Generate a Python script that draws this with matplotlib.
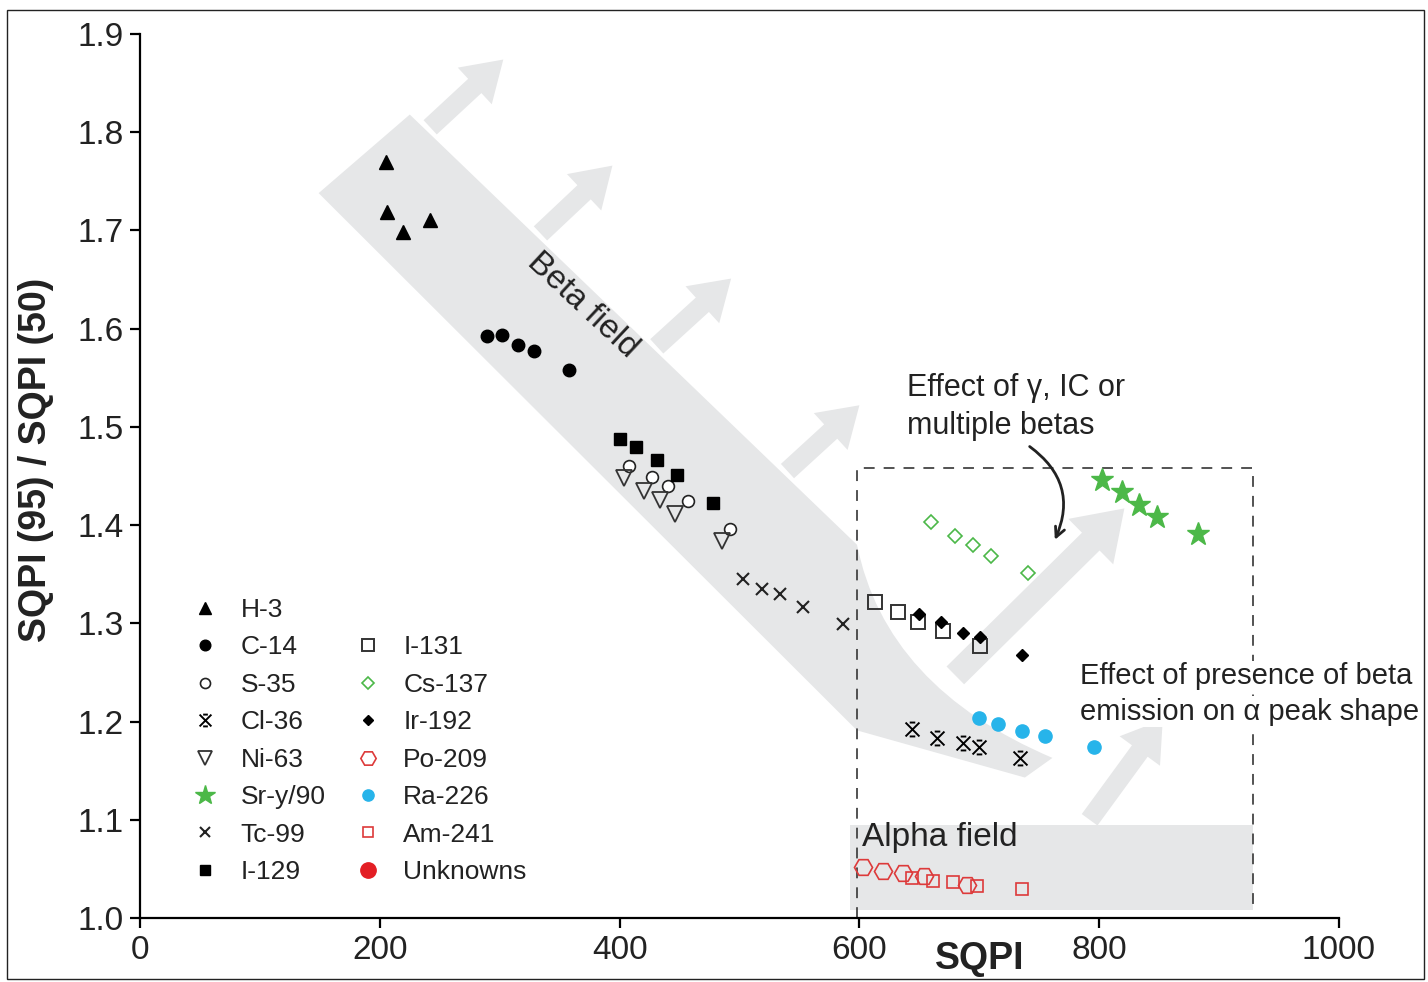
import matplotlib
matplotlib.use("Agg")
import matplotlib.pyplot as plt
from matplotlib.path import Path
from matplotlib.patches import PathPatch, Rectangle, FancyArrowPatch, ArrowStyle
from matplotlib.lines import Line2D

plt.rcParams['font.family'] = ['Liberation Sans', 'DejaVu Sans']

# data (SQPI, SQPI(95)/SQPI(50))
h3_x = [205, 206, 219, 242]
h3_y = [1.770, 1.719, 1.698, 1.711]
c14_x = [289, 302, 315, 329, 358]
c14_y = [1.593, 1.594, 1.583, 1.577, 1.558]
s35_x = [408, 427, 440, 457, 492]
s35_y = [1.460, 1.449, 1.440, 1.425, 1.396]
cl36_x = [644, 665, 686, 700, 734]
cl36_y = [1.192, 1.183, 1.178, 1.174, 1.163]
ni63_x = [404, 420, 434, 446, 485]
ni63_y = [1.448, 1.435, 1.426, 1.411, 1.384]
sr90_x = [802, 819, 833, 848, 882]
sr90_y = [1.446, 1.434, 1.420, 1.408, 1.391]
tc99_x = [503, 519, 534, 553, 586]
tc99_y = [1.345, 1.335, 1.330, 1.317, 1.299]
i129_x = [400, 414, 431, 448, 478]
i129_y = [1.488, 1.480, 1.466, 1.451, 1.423]
i131_x = [613, 632, 649, 670, 701]
i131_y = [1.322, 1.312, 1.301, 1.292, 1.277]
cs137_x = [660, 680, 695, 710, 741]
cs137_y = [1.403, 1.389, 1.380, 1.369, 1.351]
ir192_x = [650, 668, 686, 701, 736]
ir192_y = [1.310, 1.301, 1.290, 1.286, 1.268]
po209_x = [603, 620, 636, 654, 690]
po209_y = [1.052, 1.048, 1.046, 1.043, 1.034]
ra226_x = [700, 716, 736, 755, 796]
ra226_y = [1.204, 1.198, 1.190, 1.185, 1.174]
am241_x = [644, 661, 678, 698, 736]
am241_y = [1.041, 1.038, 1.037, 1.033, 1.030]

x_ticks = [0, 200, 400, 600, 800, 1000]
y_ticks = [1.0, 1.1, 1.2, 1.3, 1.4, 1.5, 1.6, 1.7, 1.8, 1.9]

GRAY = '#e6e7e8'
GREEN = '#4cb848'
BLUE = '#27b4ea'
RED = '#dd3a3a'
TXT = '#222222'

# X with small caps, used for Cl-36
cl_marker = Path(
    [(-1, -1), (1, 1), (-1, 1), (1, -1), (-0.4, 1), (0.4, 1), (-0.4, -1), (0.4, -1)],
    [Path.MOVETO, Path.LINETO, Path.MOVETO, Path.LINETO,
     Path.MOVETO, Path.LINETO, Path.MOVETO, Path.LINETO])

fig = plt.figure(figsize=(14.28, 9.82), dpi=100)
ax = fig.add_axes([140 / 1428, 1 - 918 / 982, 1199 / 1428, 884 / 982])
ax.set_xlim(0, 1000)
ax.set_ylim(1.0, 1.9)

# figure frame
fig.patches.append(Rectangle((7 / 1428, 3 / 982), 1417 / 1428, 969 / 982,
                             transform=fig.transFigure, fill=False,
                             edgecolor=TXT, lw=1.0))

# beta field band
beta = Path([(149, 1.738), (225, 1.818), (598, 1.380), (622, 1.235), (761, 1.163),
             (738, 1.143), (598, 1.191), (149, 1.738)],
            [Path.MOVETO, Path.LINETO, Path.LINETO, Path.CURVE3, Path.CURVE3,
             Path.LINETO, Path.LINETO, Path.CLOSEPOLY])
ax.add_patch(PathPatch(beta, facecolor=GRAY, edgecolor='none', zorder=0))

# alpha field
ax.add_patch(Rectangle((592, 1.008), 336, 0.087, facecolor=GRAY, edgecolor='none', zorder=0))

# dashed box
ax.plot([598, 598, 928, 928], [1.0, 1.458, 1.458, 1.006], ls=(0, (6, 5)),
        color='#444444', lw=1.3, zorder=1)

# big gray arrows
small = ArrowStyle('simple', head_length=28, head_width=36, tail_width=14)
big = ArrowStyle('simple', head_length=34, head_width=46, tail_width=18)
arrows = [((242, 1.805), (303, 1.874), small),
          ((334, 1.697), (394, 1.766), small),
          ((431, 1.582), (493, 1.651), small),
          ((540, 1.455), (600, 1.522), small),
          ((680, 1.247), (821, 1.417), big),
          ((792, 1.100), (853, 1.202), small)]
for a, b, st in arrows:
    ax.add_patch(FancyArrowPatch(a, b, arrowstyle=st, mutation_scale=1,
                                 facecolor=GRAY, edgecolor='none', zorder=0.5,
                                 shrinkA=0, shrinkB=0))

mk = dict(linestyle='none', zorder=3)
ax.plot(h3_x, h3_y, marker='^', ms=10, color='black', label='H-3', **mk)
ax.plot(c14_x, c14_y, marker='o', ms=9, color='black', label='C-14', **mk)
ax.plot(s35_x, s35_y, marker='o', ms=8.5, mfc='white', mec=TXT, mew=1.2, label='S-35', **mk)
ax.plot(cl36_x, cl36_y, marker=cl_marker, ms=10, color='black', mew=1.4, label='Cl-36', **mk)
ax.plot(ni63_x, ni63_y, marker='v', ms=12, mfc='none', mec='#333333', mew=1.3, label='Ni-63', **mk)
ax.plot(sr90_x, sr90_y, marker='*', ms=17, color=GREEN, label='Sr-y/90', **mk)
ax.plot(tc99_x, tc99_y, marker='x', ms=8, color=TXT, mew=1.5, label='Tc-99', **mk)
ax.plot(i129_x, i129_y, marker='s', ms=8.5, color='black', label='I-129', **mk)
ax.plot(i131_x, i131_y, marker='s', ms=10, mfc='none', mec='#333333', mew=1.4, label='I-131', **mk)
ax.plot(cs137_x, cs137_y, marker='D', ms=7.5, mfc='none', mec=GREEN, mew=1.2, label='Cs-137', **mk)
ax.plot(ir192_x, ir192_y, marker='D', ms=6.5, color='black', label='Ir-192', **mk)
ax.plot(po209_x, po209_y, marker='H', ms=13, mfc='none', mec=RED, mew=1.2, label='Po-209', **mk)
ax.plot(ra226_x, ra226_y, marker='o', ms=9.5, color=BLUE, label='Ra-226', **mk)
ax.plot(am241_x, am241_y, marker='s', ms=8, mfc='none', mec=RED, mew=1.2, label='Am-241', **mk)
unknown = Line2D([], [], marker='o', ms=13, color='#e31e24', linestyle='none', label='Unknowns')

handles, labels = ax.get_legend_handles_labels()
blank = Line2D([], [], linestyle='none', label=' ')
handles = handles[:8] + [blank] + handles[8:] + [unknown]
labels = [h.get_label() for h in handles]
leg = ax.legend(handles, labels, ncol=2, loc='upper left', bbox_to_anchor=(0.032, 0.377),
                frameon=False, fontsize=19, handlelength=1.0, handletextpad=0.85,
                columnspacing=1.1, labelspacing=0.51, borderpad=0, markerscale=0.85)
for t in leg.get_texts():
    t.set_color(TXT)

# annotations
white = dict(facecolor='white', edgecolor='none', pad=1)
ax.text(369, 1.624, 'Beta field', rotation=-43, rotation_mode='anchor', ha='center',
        va='center', fontsize=24, color=TXT)
ax.text(640, 1.540, 'Effect of γ, IC or', fontsize=22, va='center', color=TXT)
ax.text(640, 1.501, 'multiple betas', fontsize=22, va='center', color=TXT)
ax.text(784, 1.246, 'Effect of presence of beta', fontsize=21, va='center',
        color=TXT, clip_on=False, bbox=white, zorder=4)
ax.text(784, 1.210, 'emission on α peak shape', fontsize=21, va='center',
        color=TXT, clip_on=False, bbox=white, zorder=4)
ax.text(602, 1.0815, 'Alpha field', fontsize=24, va='center', color=TXT)
ax.annotate('', xy=(763, 1.385), xytext=(742, 1.480),
            arrowprops=dict(arrowstyle='->,head_length=0.7,head_width=0.35', lw=2,
                            color=TXT, connectionstyle='arc3,rad=-0.4',
                            shrinkA=0, shrinkB=0))

# axes styling
for s in ['top', 'right']:
    ax.spines[s].set_visible(False)
for s in ['left', 'bottom']:
    ax.spines[s].set_linewidth(1.6)
ax.set_xticks(x_ticks)
ax.set_yticks(y_ticks)
ax.set_yticklabels([f'{v:.1f}' for v in y_ticks])
ax.tick_params(direction='out', length=7, width=1.6, labelsize=24, pad=5,
               labelcolor=TXT)

ax.text(0.7006, -0.046, 'SQPI', transform=ax.transAxes, ha='center', va='center',
        fontsize=27, fontweight='bold', color=TXT)
ax.text(-0.087, 0.518, 'SQPI (95) / SQPI (50)', transform=ax.transAxes, rotation=90,
        ha='center', va='center', fontsize=27, fontweight='bold', color=TXT)

fig.savefig('out.png', dpi=100)
